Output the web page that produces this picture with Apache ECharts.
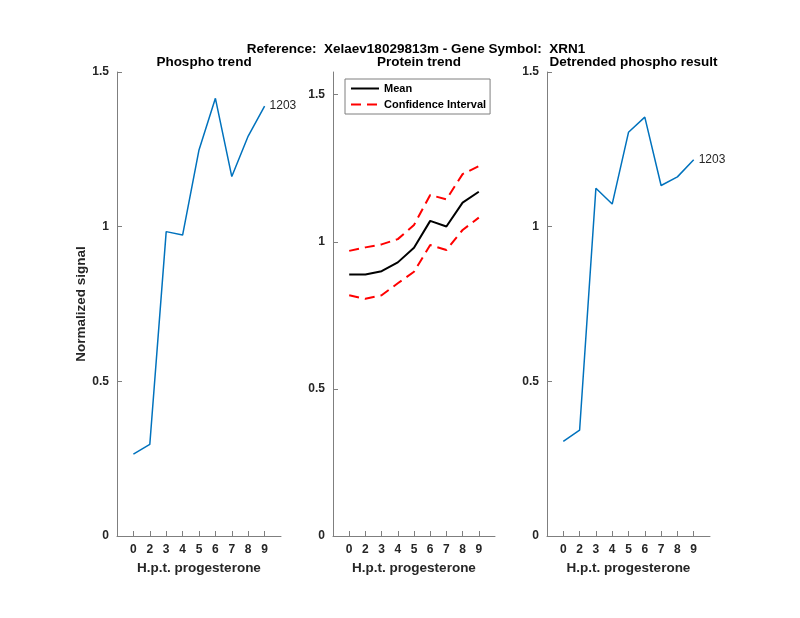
<!DOCTYPE html>
<html><head><meta charset="utf-8">
<script src="https://cdn.jsdelivr.net/npm/echarts@6/dist/echarts.min.js"></script>
<style>html,body{margin:0;padding:0;background:#fff}#c{width:800px;height:618px}</style>
</head><body><div id="c"></div>
<script>
const timeLabels = ['0','2','3','4','5','6','7','8','9'];
const phospho = [0.265, 0.296, 0.984, 0.973, 1.248, 1.415, 1.162, 1.293, 1.390];
const proteinMean = [0.889, 0.889, 0.900, 0.930, 0.980, 1.071, 1.052, 1.133, 1.170];
const proteinUpper = [0.969, 0.981, 0.991, 1.009, 1.057, 1.159, 1.144, 1.230, 1.257];
const proteinLower = [0.818, 0.806, 0.818, 0.859, 0.898, 0.989, 0.972, 1.040, 1.082];
const detrended = [0.306, 0.342, 1.124, 1.073, 1.305, 1.354, 1.133, 1.161, 1.216];
const yTicks = [0, 0.5, 1, 1.5];
const peptideLabel = '1203';

const FONT = '"Liberation Sans", Arial, Helvetica, sans-serif';
const TXT = '#262626';
const AX = '#7f7f7f';
const pos = timeLabels.map((_, i) => i + 1);
const toData = arr => arr.map((v, i) => [i + 1, v]);

const grids = [
  {left: 117, top: 72, width: 164, height: 464},
  {left: 333, top: 72, width: 162, height: 464},
  {left: 547, top: 72, width: 163, height: 464}
];
const yMax = [1.5, 1.577, 1.5];

const xAxes = grids.map((g, i) => ({
  type: 'value', gridIndex: i, min: 0, max: 10,
  axisLine: {show: true, lineStyle: {color: AX, width: 1}},
  axisTick: {show: true, inside: true, length: 5, customValues: pos, lineStyle: {color: AX}},
  splitLine: {show: false},
  axisLabel: {customValues: pos, formatter: v => timeLabels[Math.round(v) - 1] || '', color: TXT, fontFamily: FONT, fontSize: 12, fontWeight: 'bold', margin: 8},
  name: 'H.p.t. progesterone', nameLocation: 'middle', nameGap: 24,
  nameTextStyle: {color: TXT, fontFamily: FONT, fontSize: 13.5, fontWeight: 'bold'}
}));
const yAxes = grids.map((g, i) => ({
  type: 'value', gridIndex: i, min: 0, max: yMax[i],
  axisLine: {show: true, lineStyle: {color: AX, width: 1}},
  axisTick: {show: true, inside: true, length: 5, customValues: yTicks, lineStyle: {color: AX}},
  splitLine: {show: false},
  axisLabel: {customValues: yTicks, formatter: v => String(v), color: TXT, fontFamily: FONT, fontSize: 12, fontWeight: 'bold', margin: 8},
  name: i === 0 ? 'Normalized signal' : '', nameLocation: 'middle', nameGap: 23,
  nameTextStyle: {color: TXT, fontFamily: FONT, fontSize: 13.5, fontWeight: 'bold'}
}));

const endLbl = {show: true, formatter: peptideLabel, color: TXT, fontFamily: FONT, fontSize: 12, distance: 5};
const panelTitle = (text, g) => ({
  text, left: g.left + g.width / 2, top: 50, textAlign: 'center',
  textStyle: {color: '#000', fontFamily: FONT, fontSize: 13.5, fontWeight: 'bold'}
});

const option = {
  animation: false,
  backgroundColor: '#fff',
  title: [
    {text: 'Reference:  Xelaev18029813m - Gene Symbol:  XRN1', left: 411, top: 37, textAlign: 'center',
     textStyle: {color: '#000', fontFamily: FONT, fontSize: 13.5, fontWeight: 'bold'}},
    panelTitle('Phospho trend', grids[0]),
    panelTitle('Protein trend', grids[1]),
    panelTitle('Detrended phospho result', grids[2])
  ],
  legend: {
    data: ['Mean', 'Confidence Interval'], orient: 'vertical', left: 345, top: 79,
    padding: [4, 4, 4, 5], itemGap: 5, itemWidth: 28, itemHeight: 10,
    borderColor: '#7f7f7f', borderWidth: 1, backgroundColor: '#fff',
    itemStyle: {opacity: 0},
    textStyle: {color: '#000', fontFamily: FONT, fontSize: 11, fontWeight: 'bold'},
    selectedMode: false
  },
  grid: grids,
  xAxis: xAxes,
  yAxis: yAxes,
  series: [
    {type: 'line', xAxisIndex: 0, yAxisIndex: 0, data: toData(phospho), symbol: 'none',
     lineStyle: {color: '#0072BD', width: 1.5}, itemStyle: {color: '#0072BD'}, endLabel: endLbl},
    {name: 'Mean', type: 'line', xAxisIndex: 1, yAxisIndex: 1, data: toData(proteinMean), symbol: 'none',
     lineStyle: {color: '#000', width: 2}, itemStyle: {color: '#000'}},
    {name: 'Confidence Interval', type: 'line', xAxisIndex: 1, yAxisIndex: 1, data: toData(proteinUpper), symbol: 'none',
     lineStyle: {color: '#ff0000', width: 2, type: [10, 6]}, itemStyle: {color: '#ff0000'}},
    {name: 'Confidence Interval', type: 'line', xAxisIndex: 1, yAxisIndex: 1, data: toData(proteinLower), symbol: 'none',
     lineStyle: {color: '#ff0000', width: 2, type: [10, 6]}, itemStyle: {color: '#ff0000'}},
    {type: 'line', xAxisIndex: 2, yAxisIndex: 2, data: toData(detrended), symbol: 'none',
     lineStyle: {color: '#0072BD', width: 1.5}, itemStyle: {color: '#0072BD'}, endLabel: endLbl}
  ]
};
const chart = echarts.init(document.getElementById('c'), null, {renderer: 'canvas'});
chart.setOption(option);
</script></body></html>
